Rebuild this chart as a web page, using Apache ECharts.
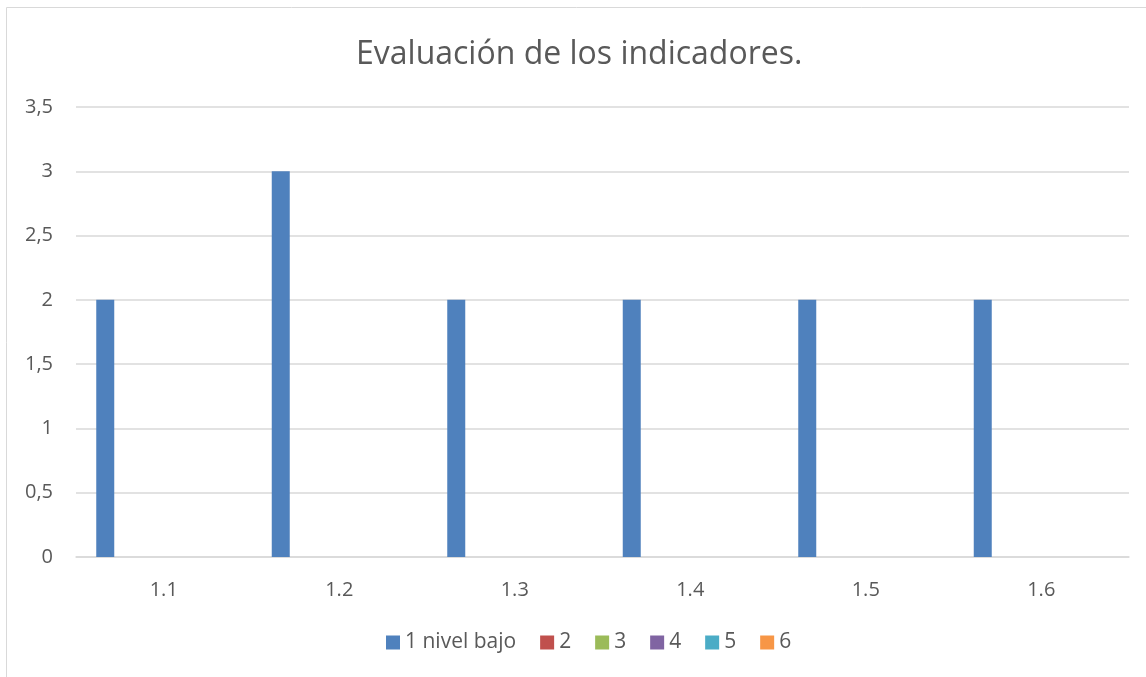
<!DOCTYPE html>
<html>
<head>
<meta charset="utf-8">
<script src="https://cdn.jsdelivr.net/npm/echarts@6/dist/echarts.min.js"></script>
<style>
  html, body { margin: 0; padding: 0; background: #fff; }
  #chart { width: 1146px; height: 677px; }
</style>
</head>
<body>
<div id="chart"></div>
<script>
// categorias (indicadores)
const categories = ["1.1", "1.2", "1.3", "1.4", "1.5", "1.6"];

// series
const seriesNames = ["1 nivel bajo", "2", "3", "4", "5", "6"];
const nivel1 = [2, 3, 2, 2, 2, 2];
const nivel2 = [0, 0, 0, 0, 0, 0];
const nivel3 = [0, 0, 0, 0, 0, 0];
const nivel4 = [0, 0, 0, 0, 0, 0];
const nivel5 = [0, 0, 0, 0, 0, 0];
const nivel6 = [0, 0, 0, 0, 0, 0];

const colors = ["#4F81BD", "#C0504D", "#9BBB59", "#8064A2", "#4BACC6", "#F79646"];

const textColor = "#595959";
const fontFamily = "'Open Sans', 'Noto Sans', sans-serif";

const chart = echarts.init(document.getElementById("chart"));

const allData = [nivel1, nivel2, nivel3, nivel4, nivel5, nivel6];
const series = [];
for (let i = 0; i < seriesNames.length; i++) {
    series.push({
        name: seriesNames[i],
        type: "bar",
        barWidth: 18,
        barGap: "30%",
        itemStyle: { color: colors[i] },
        data: allData[i]
    });
}

const option = {
    animation: false,
    color: colors,
    textStyle: { fontFamily: fontFamily },
    graphic: [
        {
            type: "rect",
            shape: { x: 6.5, y: 7.5, width: 1160, height: 700 },
            style: { fill: "none", stroke: "#d9d9d9", lineWidth: 1 },
            silent: true
        }
    ],
    title: {
        text: "Evaluación de los indicadores.",
        left: 351,
        top: 34,
        textStyle: {
            color: textColor,
            fontSize: 32,
            fontWeight: "normal",
            fontFamily: fontFamily
        }
    },
    legend: {
        data: seriesNames,
        bottom: 19,
        left: 381,
        itemWidth: 14,
        itemHeight: 14,
        itemGap: 24,
        icon: "rect",
        textStyle: { color: textColor, fontSize: 21, fontFamily: fontFamily }
    },
    grid: {
        left: 76,
        right: 17,
        top: 107,
        bottom: 120
    },
    xAxis: {
        type: "category",
        data: categories,
        axisLine: { lineStyle: { color: "#d9d9d9", width: 1.5 } },
        axisTick: { show: false },
        axisLabel: { color: textColor, fontSize: 20, margin: 23 }
    },
    yAxis: {
        type: "value",
        min: 0,
        max: 3.5,
        interval: 0.5,
        axisLine: { show: false },
        axisTick: { show: false },
        splitLine: { lineStyle: { color: "#d9d9d9", width: 1.5 } },
        axisLabel: {
            color: textColor,
            fontSize: 20,
            margin: 23,
            formatter: function (v) {
                return String(v).replace(".", ",");
            }
        }
    },
    series: series
};

chart.setOption(option);
</script>
</body>
</html>
